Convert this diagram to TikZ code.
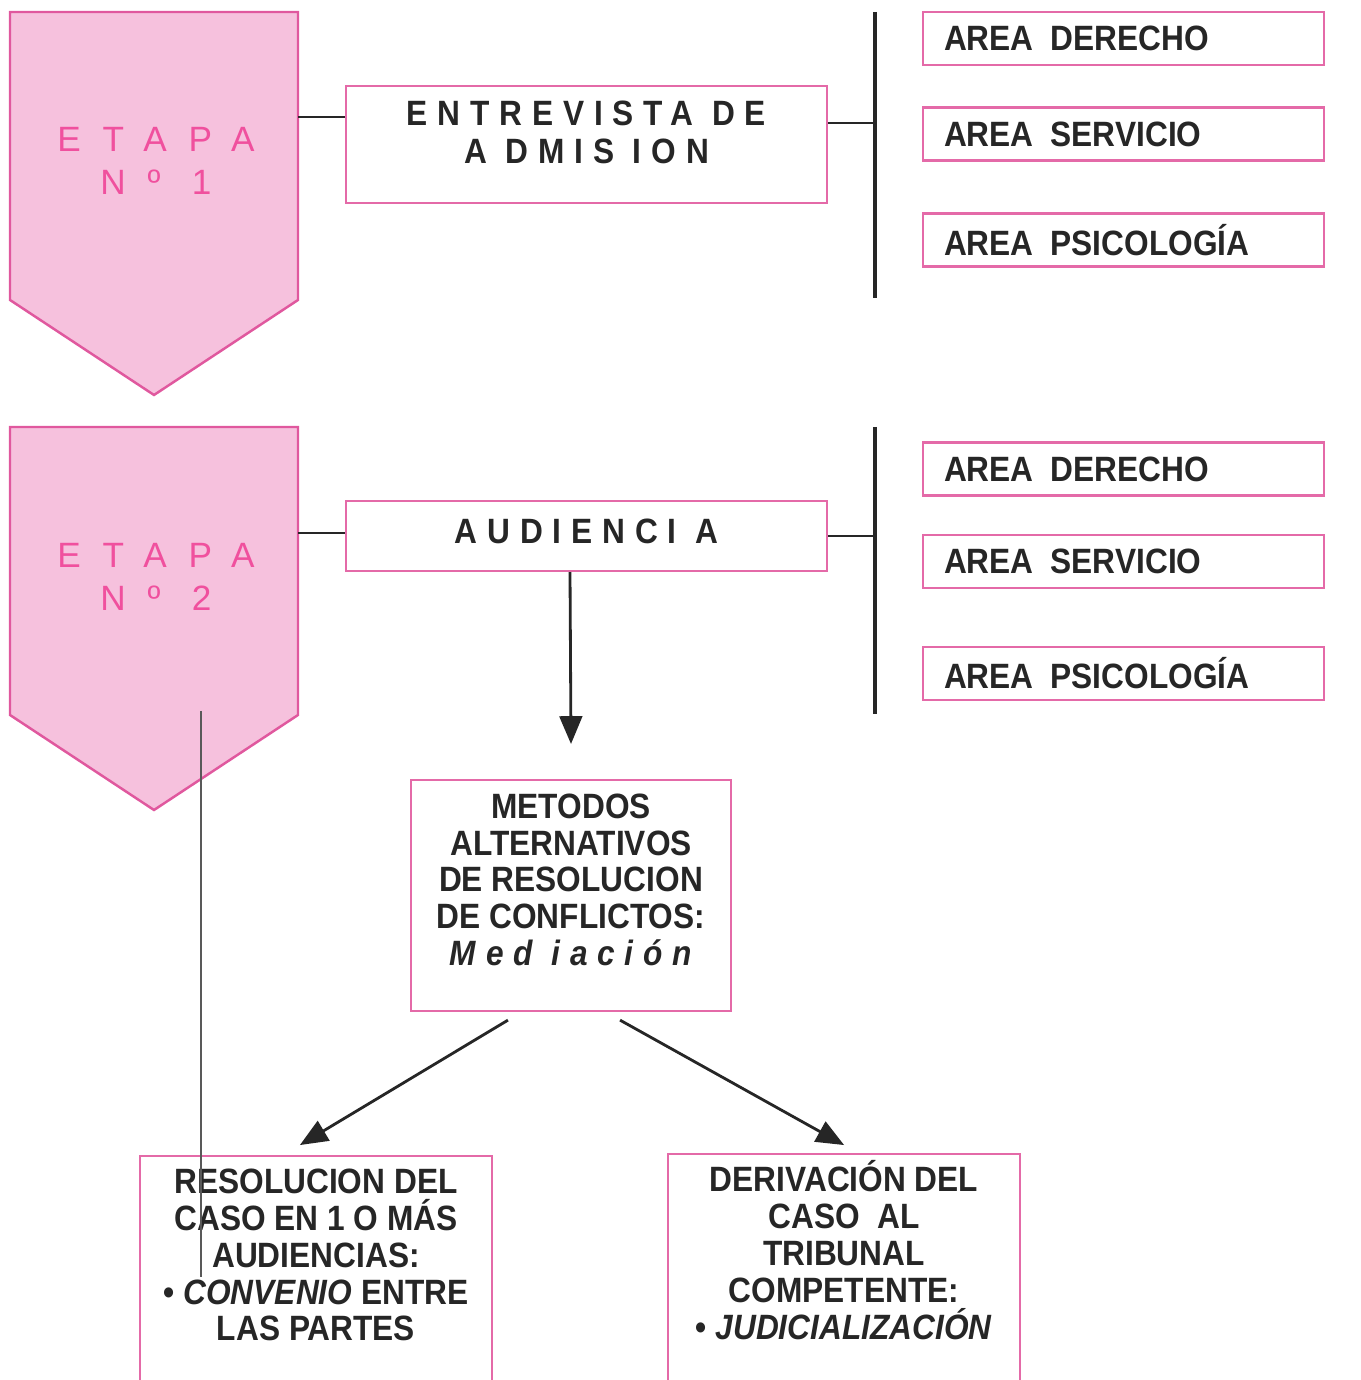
\documentclass[tikz,border=0pt]{standalone}
\usepackage{fontspec}
\setmainfont{Liberation Sans}
\newfontfamily\boxfont[FakeStretch=0.9]{Liberation Sans}
\newfontfamily\spacedfont[LetterSpace=28,FakeStretch=0.9]{Liberation Sans}
\newfontfamily\etapafont[LetterSpace=62]{Liberation Sans}
\usepackage{tikz}
\usetikzlibrary{arrows}
\usetikzlibrary{positioning}

\definecolor{stagefill}{HTML}{F6C1DD}
\definecolor{stageline}{HTML}{E0589E}
\definecolor{stagetext}{HTML}{F0509E}
\definecolor{boxline}{HTML}{E46AA8}
\definecolor{inkgray}{HTML}{262626}

\begin{document}
\begin{tikzpicture}[x=0.01cm,y=-0.01cm,
    stage/.style={draw=stageline,fill=stagefill,line width=0.7pt},
    stagetitle/.style={text=stagetext,font=\etapafont\fontsize{10}{12.2}\selectfont,align=center,inner sep=0pt},
    stepbox/.style={draw=boxline,line width=0.6pt,inner sep=0pt},
    areabox/.style={stepbox,anchor=west,minimum height=0.53cm,text width=3.59cm,inner xsep=0.21cm,align=left,text=inkgray,font=\boxfont\bfseries\fontsize{10}{10}\selectfont},
    boxtxt/.style={align=center,inner sep=0pt,text=inkgray,font=\boxfont\bfseries\fontsize{10}{10.5}\selectfont},
    spacedtxt/.style={boxtxt,font=\spacedfont\bfseries\fontsize{10}{11}\selectfont},
    link/.style={line width=0.8pt,draw=inkgray},
    bar/.style={line width=1pt,draw=inkgray},
    arrow/.style={link,-triangle 45}]
    \useasboundingbox (0,0) rectangle (1360,1380);
    \clip (0,0) rectangle (1360,1380);

    % stages
    \foreach \y in {12,427}{
      \draw[stage] (10,\y) -- (298,\y) -- (298,\y+288) -- (154,\y+383) -- (10,\y+288) -- cycle;
    }
    \node[stagetitle] (etapa1) at (156,161) {ETAPA\\Nº 1};
    \node[stagetitle] (etapa2) at (156,577) {ETAPA\\Nº 2};
    \coordinate (s1) at (298,117);
    \coordinate (s2) at (298,533);

    % stage 1
    \node[stepbox,minimum width=4.81cm,minimum height=1.17cm] (entrevista) at (586.5,144.5) {};
    \node[spacedtxt,below=0.15cm of entrevista.north] (entrevistatxt) {ENTREVISTA DE\\A DMIS ION};
    \coordinate (b1top) at (875,12);
    \coordinate (b1bot) at (875,298);
    \draw[bar] (b1top) -- (b1bot);
    \draw[link] (s1) -- (s1 -| entrevista.west);
    \draw[link] ([yshift=0.215cm]entrevista.east) -- ([yshift=0.215cm]entrevista.east -| b1top);
    \foreach \n/\y/\t in {1/38.5/DERECHO,2/134/SERVICIO,3/240/PSICOLOGÍA}
      \node[areabox] (a1\n) at (922,\y) {AREA\ \hspace{1.5pt}\t};

    % stage 2
    \node[stepbox,minimum width=4.81cm,minimum height=0.70cm,spacedtxt,text depth=0.1cm] (audiencia) at (586.5,536) {AUDIENCI A};
    \coordinate (b2top) at (875,427);
    \coordinate (b2bot) at (875,714);
    \draw[bar] (b2top) -- (b2bot);
    \draw[link] (s2) -- (s2 -| audiencia.west);
    \draw[link] (audiencia.east) -- (audiencia.east -| b2top);
    \foreach \n/\y/\t in {1/469/DERECHO,2/561.5/SERVICIO,3/673.5/PSICOLOGÍA}
      \node[areabox] (a2\n) at (922,\y) {AREA\ \hspace{1.5pt}\t};

    % mediation
    \node[stepbox,minimum width=3.2cm,minimum height=2.31cm] (metodos) at (571,895.5) {};
    \node[boxtxt,below=0.14cm of metodos.north] (metodostxt) {METODOS\\ALTERNATIVOS\\DE RESOLUCION\\DE CONFLICTOS:\\{\spacedfont\bfseries\itshape Med iación}};
    \draw[arrow] ([xshift=-0.165cm]audiencia.south) -- ([yshift=0.35cm]metodos.north);

    % results
    \node[stepbox,anchor=north,minimum width=3.52cm,minimum height=3cm] (resolucion) at (316,1155) {};
    \node[boxtxt,below=0.13cm of resolucion.north] (resoluciontxt) {RESOLUCION DEL\\CASO EN 1 O MÁS\\AUDIENCIAS:\\• \textit{CONVENIO} ENTRE\\LAS PARTES};
    \node[stepbox,anchor=north,minimum width=3.52cm,minimum height=3cm] (derivacion) at (844,1153) {};
    \node[boxtxt,below=0.07cm of derivacion.north] (derivaciontxt) {DERIVACIÓN DEL\\CASO\ \ AL\\TRIBUNAL\\COMPETENTE:\\• \textit{JUDICIALIZACIÓN}};
    \draw[arrow] ([xshift=-0.63cm,yshift=-0.08cm]metodos.south) -- ([xshift=-0.16cm,yshift=0.1cm]resolucion.north);
    \draw[arrow] ([xshift=0.49cm,yshift=-0.08cm]metodos.south) -- ([yshift=0.08cm]derivacion.north);

    % stray rule
    \coordinate (r1) at (201,711);
    \coordinate (r2) at (201,1277);
    \draw[gray!70!black,line width=0.4pt] (r1) -- (r2);
\end{tikzpicture}
\end{document}
